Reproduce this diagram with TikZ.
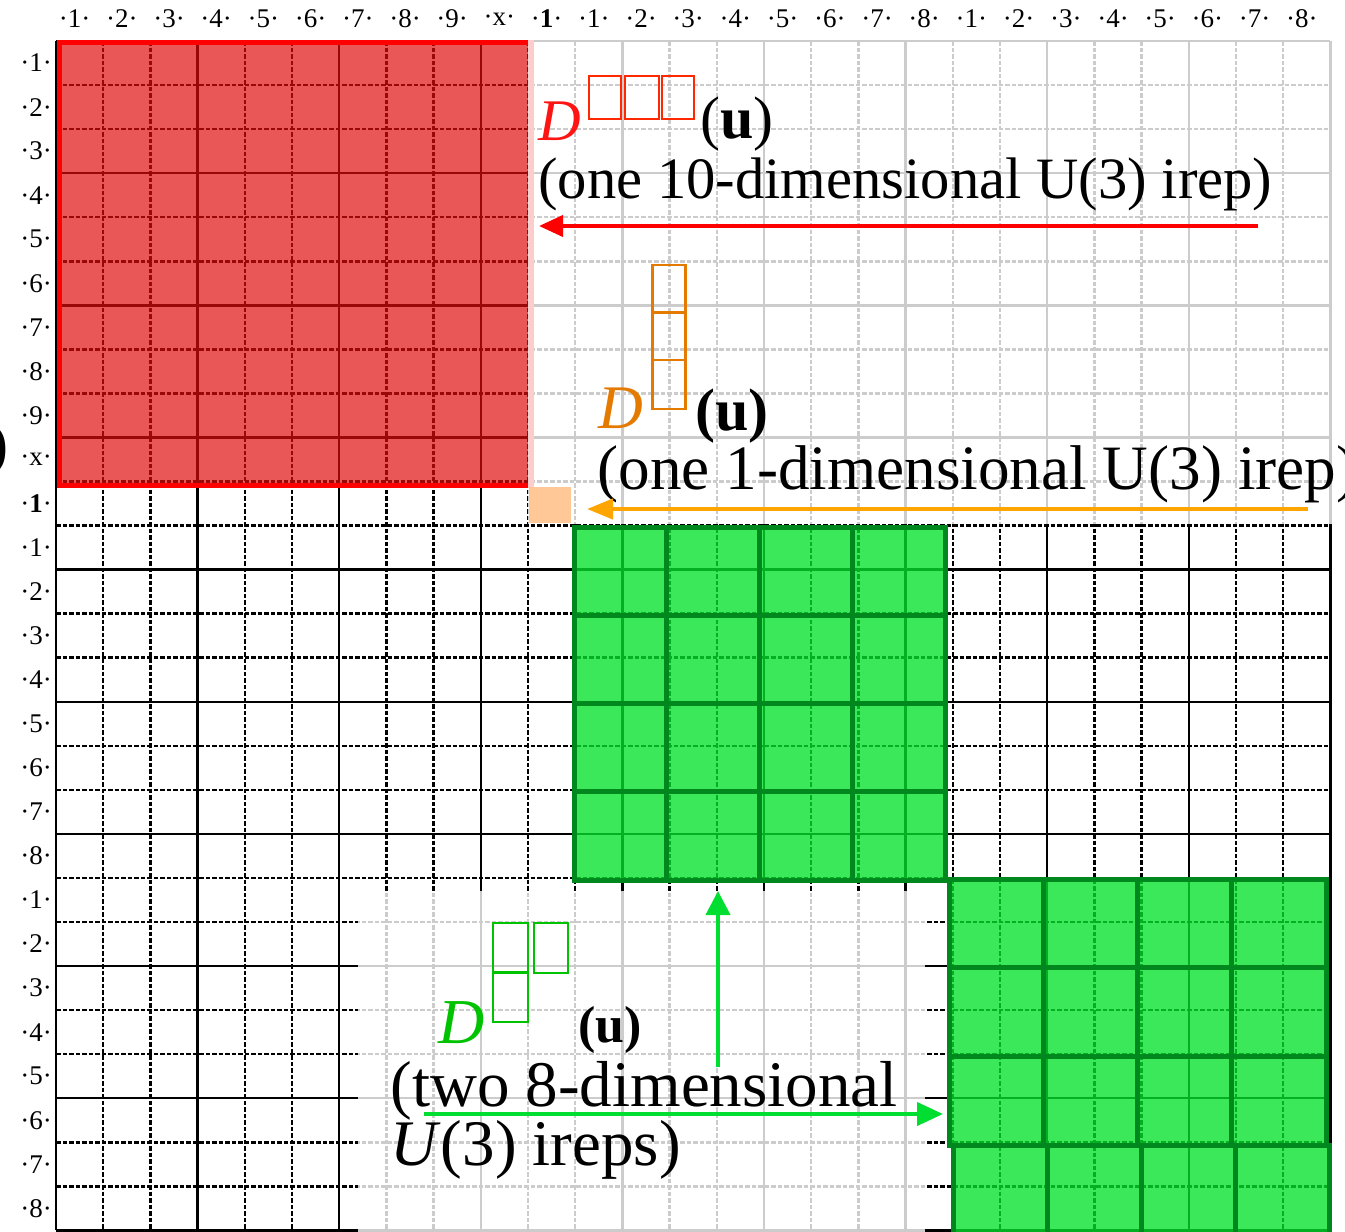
\documentclass[tikz,border=0pt]{standalone}
\usepackage{fontspec}
\setmainfont{Liberation Serif}
\usetikzlibrary{arrows.meta}
\definecolor{redfill}{RGB}{224,12,12}
\definecolor{redborder}{RGB}{255,0,0}
\definecolor{greenfill}{RGB}{3,226,44}
\definecolor{greenborder}{RGB}{0,135,30}
\definecolor{orangesq}{RGB}{255,200,150}
\definecolor{orangearrow}{RGB}{255,165,0}
\definecolor{orangetext}{RGB}{228,122,0}
\definecolor{greenarrow}{RGB}{0,222,50}
\definecolor{greentext}{RGB}{0,195,0}
\definecolor{redtext}{RGB}{255,20,20}
\definecolor{redyd}{RGB}{255,40,0}
\begin{document}
\begin{tikzpicture}[x=0.5pt,y=-0.5pt,
  gsolid/.style={line width=1.25pt},
  gdash/.style={line width=1.25pt, dash pattern=on 2.25pt off 1pt},
  lbl/.style={font=\fontsize{13.5}{16}\selectfont, inner sep=0},
  big/.style={anchor=base west, inner sep=0},
  subblk/.style={greenborder, line width=2.5pt},
  yd/.style={line width=1.2pt},
  arr/.style={line width=2pt, -{Triangle[length=12pt,width=11pt]}},
]
\clip (0,0) rectangle (1345,1232);
\fill[white] (0,0) rectangle (1345,1232);

% base grid
\foreach \k in {0,3,...,27} {
  \draw[gsolid] ({56+47.2*\k},41) -- ({56+47.2*\k},1230.35);
  \draw[gsolid] (56,{41+44.05*\k}) -- (1330.4,{41+44.05*\k});
}
\foreach \k in {1,2,4,5,7,8,10,11,13,14,16,17,19,20,22,23,25,26} {
  \draw[gdash] ({56+47.2*\k},41) -- ({56+47.2*\k},1230.35);
  \draw[gdash] (56,{41+44.05*\k}) -- (1330.4,{41+44.05*\k});
}

% red block
\fill[redfill, opacity=0.69] (59,42) rectangle (531,485.5);
\draw[redborder, line width=2.5pt] (59,42) rectangle (531,485.5);

% upper right veil
\fill[white, opacity=0.8] (528,37) rectangle (1335,524);

% orange cell
\fill[orangesq] (529,487) rectangle (571,523);

% green blocks: fills
\foreach \i in {0,...,3} {
  \foreach \j in {0,...,3} {
    \fill[greenfill, opacity=0.78] ({574+92.75*\i},{527+88.25*\j}) rectangle +(92.75,88.25);
  }
  \foreach \j in {0,...,2} {
    \fill[greenfill, opacity=0.78] ({949.5+94.125*\i},{879+88.67*\j}) rectangle +(94.125,88.67);
  }
  \fill[greenfill, opacity=0.78] ({953+94.125*\i},1145) rectangle +(94.125,90);
}
% green blocks: borders
\foreach \i in {0,...,3} {
  \foreach \j in {0,...,3} {
    \draw[subblk] ({574+92.75*\i},{527+88.25*\j}) rectangle +(92.75,88.25);
  }
  \foreach \j in {0,...,2} {
    \draw[subblk] ({949.5+94.125*\i},{879+88.67*\j}) rectangle +(94.125,88.67);
  }
  \draw[subblk] ({953+94.125*\i},1145) rectangle +(94.125,90);
}

% lower veil
\fill[white, opacity=0.8] (358,891) rectangle (925,1236);

% column and row labels
\foreach \t [count=\i from 0] in {1,2,3,4,5,6,7,8,9,x,\textbf{1},1,2,3,4,5,6,7,8,1,2,3,4,5,6,7,8} {
  \node[lbl] (col\i) at ({56+47.2*(\i+0.5)-5},19) {·\t·};
  \node[lbl] (row\i) at (36,{41+44.05*(\i+0.5)}) {·\t·};
}

% left clipped parenthesis
\node[inner sep=0, anchor=base east, font=\fontsize{30}{36}\selectfont] (leftParen) at (9,464) {)};

% red label
\draw[redyd, yd] (589,76) rectangle (621,119);
\draw[redyd, yd] (625,76) rectangle (659,119);
\draw[redyd, yd] (662,76) rectangle (694,119);
\node[big, text=redtext, font=\fontsize{29.5}{35}\selectfont\itshape] (redD) at (538,140) {D};
\node[big, font=\fontsize{30}{36}\selectfont] (redU) at (700,138) {(\textbf{u})};
\node[big, font=\fontsize{29.3}{35}\selectfont] (redTxt) at (538,198) {(one 10-dimensional U(3) irep)};
\coordinate (redStart) at (1258,226);
\coordinate (redEnd) at (539,226);
\draw[arr, redborder, -{Triangle[length=12pt,width=10.5pt]}] (redStart) -- (redEnd);

% orange label
\draw[orangetext, yd] (652.5,265) rectangle (685.5,312.5);
\draw[orangetext, yd] (652.5,312.5) rectangle (685.5,360);
\draw[orangetext, yd] (652.5,360) rectangle (685.5,409);
\node[big, text=orangetext, font=\fontsize{31}{37}\selectfont\itshape] (orD) at (598,428) {D};
\node[big, font=\fontsize{30}{36}\selectfont\bfseries] (orU) at (695,430) {(u)};
\node[big, font=\fontsize{31.6}{38}\selectfont] (orTxt) at (597,489) {(one 1-dimensional U(3) irep)};
\coordinate (orStart) at (1308,509);
\coordinate (orEnd) at (587,509);
\draw[arr, orangearrow, -{Triangle[length=13pt,width=10pt]}] (orStart) -- (orEnd);

% green label
\draw[greentext, yd] (493,923) rectangle (528,972);
\draw[greentext, yd] (534,923) rectangle (568,973);
\draw[greentext, yd] (493,973) rectangle (528,1022);
\node[big, text=greentext, font=\fontsize{32}{38}\selectfont\itshape] (grD) at (438,1043) {D};
\node[big, font=\fontsize{26}{31}\selectfont\bfseries] (grU) at (578,1042) {(u)};
\node[big, font=\fontsize{32.5}{39}\selectfont] (grTxtA) at (390,1106) {(two 8-dimensional};
\node[big, font=\fontsize{32.5}{39}\selectfont] (grTxtB) at (390,1165) {\textit{U}(3) ireps)};
\coordinate (grVStart) at (718,1067);
\coordinate (grVEnd) at (718,891);
\coordinate (grHStart) at (424,1114);
\coordinate (grHEnd) at (943,1114);
\draw[arr, greenarrow, -{Triangle[length=12pt,width=12pt]}] (grVStart) -- (grVEnd);
\draw[arr, greenarrow, -{Triangle[length=13pt,width=11.5pt]}] (grHStart) -- (grHEnd);
\end{tikzpicture}
\end{document}
